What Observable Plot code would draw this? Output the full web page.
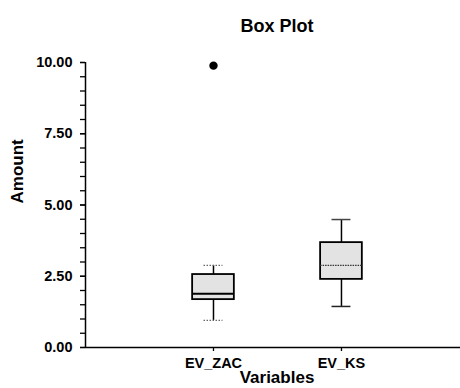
<!DOCTYPE html>
<html>
<head>
<meta charset="utf-8">
<script src="https://cdn.jsdelivr.net/npm/d3@7"></script>
<script src="https://cdn.jsdelivr.net/npm/@observablehq/plot@0.6"></script>
<style>
  html, body { margin: 0; padding: 0; background: #fff; }
  #wrap { position: relative; width: 460px; height: 388px; overflow: hidden; font-family: "Liberation Sans", Arial, sans-serif; }
  #title { position: absolute; top: 17px; left: 277px; transform: translateX(-50%); font-size: 18px; line-height: 18px; font-weight: bold; white-space: nowrap; color: #000; }
  #chart { position: absolute; top: 45px; left: 0; }
  #chart svg text { font-weight: bold; }
</style>
</head>
<body>
<div id="wrap">
  <div id="title">Box Plot</div>
  <div id="chart"></div>
</div>
<script>
// ---- data ----
const categories = ["EV_ZAC", "EV_KS"];
const lowerWhisker = [0.95, 1.44];
const q1 = [1.68, 2.39];
const median = [1.89, 2.88];
const q3 = [2.56, 3.68];
const upperWhisker = [2.88, 4.49];
const outlierCategory = ["EV_ZAC"];
const outlierValue = [9.89];
const yTicks = [0, 2.5, 5, 7.5, 10];
const yMinorStep = 0.5;

// ---- tables built from the arrays ----
const boxes = categories.map((c, i) => ({
  cat: c, pos: i + 1,
  lo: lowerWhisker[i], q1: q1[i], med: median[i], q3: q3[i], hi: upperWhisker[i]
}));
const outliers = outlierCategory.map((c, i) => ({pos: categories.indexOf(c) + 1, v: outlierValue[i]}));
const minorTicks = d3.range(yTicks[0], yTicks[yTicks.length - 1] + 1e-9, yMinorStep);

const boxHalf = 0.163;
const capHalf = 0.074;

const plot = Plot.plot({
  width: 460,
  height: 343,
  marginLeft: 85,
  marginRight: 0,
  marginTop: 17,
  marginBottom: 41,
  style: {fontFamily: "'Liberation Sans', Arial, sans-serif", fontSize: "14.5px", color: "#000", background: "#fff"},
  x: {domain: [0, 2.93], axis: null},
  y: {domain: [0, 10], axis: null},
  marks: [
    // y minor ticks
    Plot.axisY({ticks: minorTicks, tickFormat: () => "", tickSize: 5, strokeWidth: 1.3, label: null}),
    // y major ticks + labels
    Plot.axisY({ticks: yTicks, tickFormat: d => d.toFixed(2), tickSize: 5, tickPadding: 8, strokeWidth: 1.3, label: null}),
    // x ticks + labels
    Plot.axisX({ticks: boxes.map(d => d.pos), tickFormat: p => categories[p - 1], tickSize: 4, tickPadding: 6, strokeWidth: 1.3, label: null}),
    // axis lines
    Plot.ruleX([0], {y1: yTicks[0], y2: yTicks[yTicks.length - 1], strokeWidth: 1.5}),
    Plot.ruleY([0], {strokeWidth: 1.5}),
    // whiskers
    Plot.ruleX(boxes, {x: "pos", y1: "lo", y2: "q1", strokeWidth: 1.5}),
    Plot.ruleX(boxes, {x: "pos", y1: "q3", y2: "hi", strokeWidth: 1.5}),
    // caps
    Plot.ruleY(boxes.filter((d, i) => i === 0), {y: "lo", x1: d => d.pos - capHalf, x2: d => d.pos + capHalf, stroke: "#666", strokeWidth: 1.3, strokeDasharray: "1.5,1.5"}),
    Plot.ruleY(boxes.filter((d, i) => i === 0), {y: "hi", x1: d => d.pos - capHalf, x2: d => d.pos + capHalf, stroke: "#666", strokeWidth: 1.3, strokeDasharray: "1.5,1.5"}),
    Plot.ruleY(boxes.filter((d, i) => i === 1), {y: "lo", x1: d => d.pos - capHalf, x2: d => d.pos + capHalf, stroke: "#222", strokeWidth: 1.5}),
    Plot.ruleY(boxes.filter((d, i) => i === 1), {y: "hi", x1: d => d.pos - capHalf, x2: d => d.pos + capHalf, stroke: "#444", strokeWidth: 1.5}),
    // boxes
    Plot.rect(boxes, {x1: d => d.pos - boxHalf, x2: d => d.pos + boxHalf, y1: "q1", y2: "q3", fill: "#e3e3e3", stroke: "#000", strokeWidth: 1.8}),
    // medians
    Plot.ruleY(boxes.filter((d, i) => i === 0), {y: "med", x1: d => d.pos - boxHalf, x2: d => d.pos + boxHalf, stroke: "#000", strokeWidth: 2}),
    Plot.ruleY(boxes.filter((d, i) => i === 1), {y: "med", x1: d => d.pos - boxHalf, x2: d => d.pos + boxHalf, stroke: "#333", strokeWidth: 1.3, strokeDasharray: "1.5,1"}),
    // outliers
    Plot.dot(outliers, {x: "pos", y: "v", r: 4.2, fill: "#000", stroke: null}),
    // axis titles
    Plot.text(["Amount"], {frameAnchor: "left", dx: -67.5, dy: -1.5, rotate: -90, fontSize: 17, fill: "#000"}),
    Plot.text(["Variables"], {frameAnchor: "bottom", dx: 4, dy: 35.5, fontSize: 17, fill: "#000"})
  ]
});
document.getElementById("chart").appendChild(plot);
</script>
</body>
</html>
